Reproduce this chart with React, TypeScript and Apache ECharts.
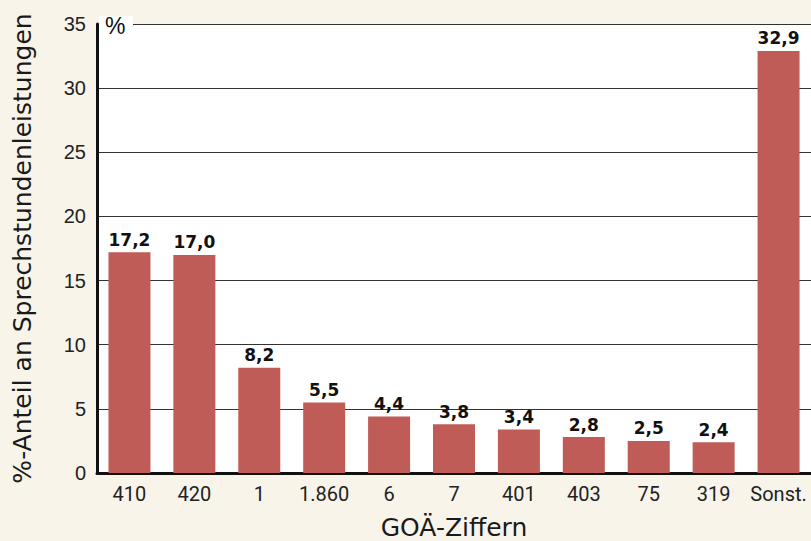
import React, { useEffect, useRef } from "react";
import * as echarts from "echarts";

const categories = ["410", "420", "1", "1.860", "6", "7", "401", "403", "75", "319", "Sonst."];
const values = [17.2, 17.0, 8.2, 5.5, 4.4, 3.8, 3.4, 2.8, 2.5, 2.4, 32.9];
const yTicks = [0, 5, 10, 15, 20, 25, 30, 35];

export default function App() {
  const ref = useRef<HTMLDivElement>(null);
  useEffect(() => {
    if (!ref.current) return;
    const chart = echarts.init(ref.current, null, { renderer: "svg" });
    chart.setOption({
      animation: false,
      backgroundColor: "#f8f4ea",
      grid: {
        left: 97,
        right: 0,
        top: 24,
        bottom: 68,
        show: true,
        backgroundColor: "#ffffff",
        borderWidth: 0,
        containLabel: false,
        outerBoundsMode: "none",
      },
      xAxis: {
        type: "category",
        data: categories,
        name: "GOÄ-Ziffern",
        nameLocation: "middle",
        nameGap: 42,
        nameTextStyle: { fontSize: 25, color: "#1a1a1a", fontFamily: "DejaVu Sans" },
        axisLine: { show: true, lineStyle: { color: "#111", width: 3 } },
        axisTick: { show: false },
        axisLabel: { interval: 0, fontSize: 20, color: "#222", margin: 11, fontFamily: "Roboto" },
      },
      yAxis: {
        type: "value",
        min: yTicks[0],
        max: yTicks[yTicks.length - 1],
        interval: 5,
        name: "%-Anteil an Sprechstundenleistungen",
        nameLocation: "middle",
        nameGap: 62,
        nameTextStyle: { fontSize: 25, color: "#1a1a1a", fontFamily: "DejaVu Sans" },
        axisLine: { show: true, lineStyle: { color: "#111", width: 3 } },
        axisTick: { show: false },
        axisLabel: { fontSize: 20, color: "#222", margin: 11, fontFamily: "Liberation Sans" },
        splitLine: { show: true, lineStyle: { color: "#333", width: 1.2 } },
      },
      graphic: [
        {
          type: "rect",
          left: 99,
          top: 16,
          shape: { width: 34, height: 22 },
          style: { fill: "#ffffff" },
          z: 100,
        },
        {
          type: "text",
          left: 105,
          top: 14,
          style: { text: "%", fontSize: 23, fill: "#111", fontFamily: "Liberation Sans" },
          z: 101,
        },
      ],
      series: [
        {
          type: "bar",
          data: values,
          barWidth: 42,
          itemStyle: { color: "#c05c57" },
          label: {
            show: true,
            position: "top",
            distance: 4,
            fontSize: 17,
            fontWeight: "bold",
            color: "#111",
            fontFamily: "DejaVu Sans",
            formatter: (p: any) => p.value.toFixed(1).replace(".", ","),
          },
        },
      ],
    });
    return () => chart.dispose();
  }, []);
  return <div ref={ref} style={{ width: 811, height: 541, position: "absolute", left: 0, top: 0 }} />;
}
